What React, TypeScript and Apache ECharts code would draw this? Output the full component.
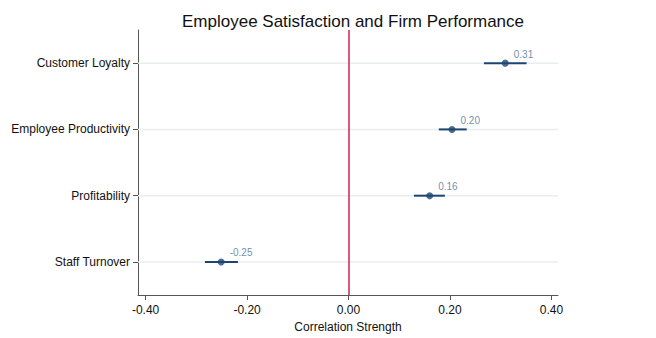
import React, { useEffect, useRef } from "react";
import * as echarts from "echarts";

const categories = ["Staff Turnover", "Profitability", "Employee Productivity", "Customer Loyalty"];
const estimates = [-0.251, 0.16, 0.204, 0.309];
const lowerCI = [-0.283, 0.129, 0.178, 0.267];
const upperCI = [-0.218, 0.19, 0.233, 0.351];
const estimateLabels = ["-0.25", "0.16", "0.20", "0.31"];
const xTicks = [-0.4, -0.2, 0, 0.2, 0.4];

const NAVY = "#1b4673";

export default function App() {
  const ref = useRef<HTMLDivElement>(null);
  useEffect(() => {
    if (!ref.current) return;
    const chart = echarts.init(ref.current, null, { renderer: "svg" });
    const font = "'Liberation Sans', Arial, sans-serif";
    chart.setOption({
      animation: false,
      backgroundColor: "#ffffff",
      textStyle: { fontFamily: font },
      title: {
        text: "Employee Satisfaction and Firm Performance",
        left: 348,
        textAlign: "center",
        top: 8,
        textStyle: { fontFamily: font, fontSize: 17, fontWeight: "normal", color: "#111" },
      },
      grid: { left: 138, right: 98, top: 30, bottom: 40, containLabel: false },
      xAxis: {
        type: "value",
        min: -0.415,
        max: 0.413,
        name: "Correlation Strength",
        nameLocation: "middle",
        nameGap: 20,
        nameTextStyle: { fontFamily: font, fontSize: 12, color: "#111" },
        axisLine: { show: true, onZero: false, lineStyle: { color: "#555", width: 1 } },
        axisTick: { show: true, customValues: xTicks, length: 5, lineStyle: { color: "#555" } },
        axisLabel: {
          customValues: xTicks,
          formatter: (v: number) => v.toFixed(2),
          fontFamily: font,
          fontSize: 12,
          color: "#111",
          margin: 9,
        },
        splitLine: { show: false },
      },
      yAxis: {
        type: "category",
        data: categories,
        axisLine: { show: true, onZero: false, lineStyle: { color: "#555", width: 1 } },
        axisTick: { show: true, alignWithLabel: true, length: 5, lineStyle: { color: "#555" } },
        axisLabel: { fontFamily: font, fontSize: 12, color: "#111", margin: 8 },
        splitLine: { show: false },
      },
      series: [
        {
          type: "custom",
          silent: true,
          z: 1,
          data: categories.map((_, i) => [0, i]),
          renderItem: (params: any, api: any) => {
            const y = api.coord([0, api.value(1)])[1];
            const cs = params.coordSys;
            return {
              type: "line",
              shape: { x1: cs.x, y1: y, x2: cs.x + cs.width, y2: y },
              style: { stroke: "#e8eeee", lineWidth: 1.5 },
            };
          },
        },
        {
          type: "custom",
          z: 3,
          data: categories.map((_, i) => [lowerCI[i], upperCI[i], i]),
          renderItem: (params: any, api: any) => {
            const p1 = api.coord([api.value(0), api.value(2)]);
            const p2 = api.coord([api.value(1), api.value(2)]);
            return {
              type: "line",
              shape: { x1: p1[0], y1: p1[1], x2: p2[0], y2: p2[1] },
              style: { stroke: NAVY, lineWidth: 2 },
            };
          },
        },
        {
          type: "scatter",
          z: 4,
          symbol: "circle",
          symbolSize: 7,
          itemStyle: { color: NAVY },
          data: categories.map((_, i) => [estimates[i], i]),
          label: {
            show: true,
            position: "right",
            distance: 5,
            offset: [0, -9],
            formatter: (p: any) => estimateLabels[p.dataIndex],
            fontFamily: font,
            fontSize: 10,
            color: "#4a6f9a",
          },
          markLine: {
            silent: true,
            symbol: "none",
            label: { show: false },
            lineStyle: { color: "#d41f4e", width: 1.5, type: "solid" },
            data: [{ xAxis: 0 }],
          },
        },
      ],
    });
    return () => chart.dispose();
  }, []);
  return (
    <div
      ref={ref}
      style={{ position: "fixed", left: 0, top: 0, width: 656, height: 338 }}
    />
  );
}
